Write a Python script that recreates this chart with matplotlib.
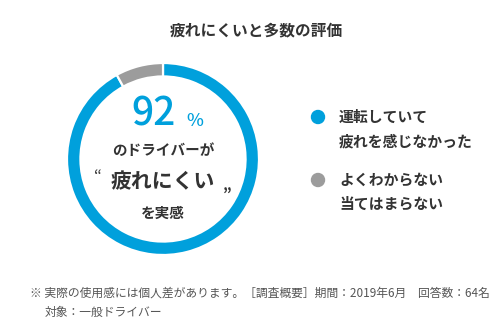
import matplotlib
matplotlib.use('Agg')
import matplotlib.pyplot as plt

plt.rcParams['font.family'] = ['Noto Sans CJK JP', 'DejaVu Sans']

shares = [92, 8]
colors = ['#00a0dc', '#9c9c9c']
legend_lines = [['運転していて', '疲れを感じなかった'], ['よくわからない', '当てはまらない']]
title = '疲れにくいと多数の評価'
big_value = '92'
footnote_1 = '※ 実際の使用感には個人差があります。［調査概要］期間：2019年6月　回答数：64名'
footnote_2 = '対象：一般ドライバー'

W, H = 503, 323
fig = plt.figure(figsize=(W / 100, H / 100), dpi=100)


def px(x, y):
    # pixel coords (top-left origin) -> figure fraction
    return x / W, 1 - y / H


def put(x, y, s, **kw):
    fx, fy = px(x, y)
    fig.text(fx, fy, s, **kw)


# donut
cx, cy, r = 163, 159, 96
ax = fig.add_axes([(cx - r) / W, (H - cy - r) / H, 2 * r / W, 2 * r / H])
ax.pie(shares, colors=colors, startangle=90, counterclock=False,
       wedgeprops=dict(width=0.14, edgecolor='white', linewidth=1.6))
ax.set_xlim(-1, 1)
ax.set_ylim(-1, 1)
ax.set_aspect('equal')
ax.axis('off')

dark = '#333333'
put(W / 2 + 5, 30, title, ha='center', va='center', fontsize=11.3, fontweight='bold', color=dark)

# centre text
put(176, 114, big_value, ha='right', va='center', fontsize=28, fontweight='medium', color=colors[0])
put(195, 121, '%', ha='center', va='center', fontsize=13, fontweight='medium', color=colors[0])
put(cx, 150, 'のドライバーが', ha='center', va='center', fontsize=10.5, fontweight='bold', color=dark)
put(98, 177, '“', ha='center', va='center', fontsize=12, color=dark)
put(cx, 182, '疲れにくい', ha='center', va='center', fontsize=15, fontweight='bold', color=dark)
put(227, 186, '„', ha='center', va='center', fontsize=11, fontweight='bold', color=dark)
put(cx, 213, 'を実感', ha='center', va='center', fontsize=10.5, fontweight='bold', color=dark)

# legend
for i, lines in enumerate(legend_lines):
    y0 = 117 + i * 63
    fx, fy = px(318, y0)
    fig.patches.append(plt.Circle((fx * W, fy * H), 6.5, color=colors[i],
                                  transform=None))
    for j, s in enumerate(lines):
        put(339, y0 + j * 24, s, ha='left', va='center', fontsize=10.7,
            fontweight='bold', color=dark)

# footnote
put(30, 293, footnote_1, ha='left', va='center', fontsize=8.5, color='#555555')
put(45, 312, footnote_2, ha='left', va='center', fontsize=8.5, color='#555555')

fig.savefig('out.png', dpi=100)
